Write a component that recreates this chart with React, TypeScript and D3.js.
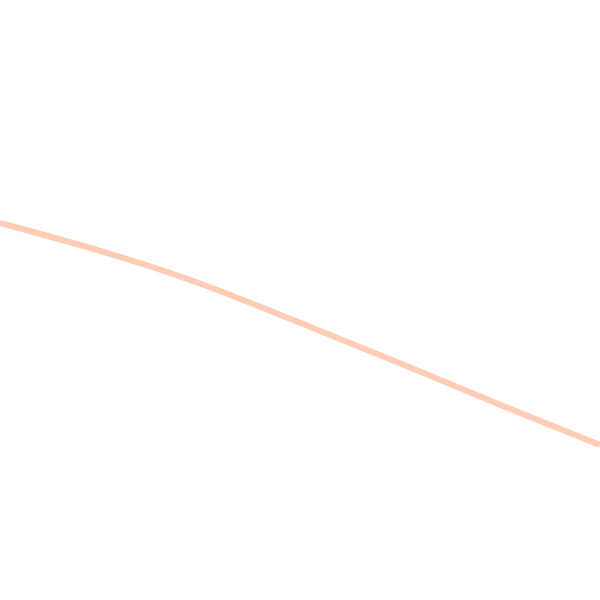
import React, { useEffect, useRef } from 'react';
import * as d3 from 'd3';

const WIDTH = 600;
const HEIGHT = 600;

// sample positions along the line and their values
const steps = [0, 2, 4, 6, 8, 10, 12];
const values = [377, 350, 318, 277, 237, 195, 155];

const App: React.FC = () => {
  const ref = useRef<SVGSVGElement>(null);

  useEffect(() => {
    const svg = d3.select(ref.current);
    svg.selectAll('*').remove();

    const x = d3.scaleLinear().domain([0, 12]).range([0, WIDTH]);
    const y = d3.scaleLinear().domain([0, 600]).range([HEIGHT, 0]);

    const line = d3
      .line<number>()
      .x((_, i) => x(steps[i]))
      .y((d) => y(d))
      .curve(d3.curveBasis);

    svg
      .append('path')
      .datum(values)
      .attr('fill', 'none')
      .attr('stroke', '#ffbfa2')
      .attr('stroke-opacity', 0.8)
      .attr('stroke-width', 6)
      .attr('d', line);
  }, []);

  return (
    <svg
      ref={ref}
      width={WIDTH}
      height={HEIGHT}
      style={{ position: 'fixed', top: 0, left: 0, background: '#fff' }}
    />
  );
};

export default App;
